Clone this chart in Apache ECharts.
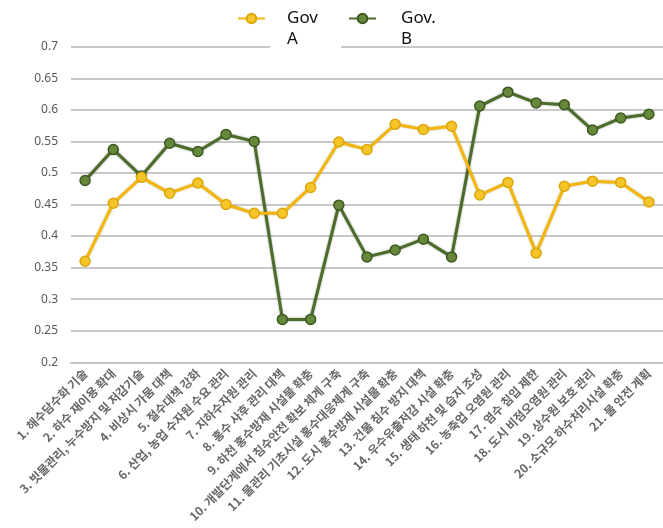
<!DOCTYPE html>
<html>
<head>
<meta charset="utf-8">
<script src="https://cdn.jsdelivr.net/npm/echarts@6/dist/echarts.min.js"></script>
<style>
  html, body { margin: 0; padding: 0; background: #ffffff; }
  #chart { width: 663px; height: 528px; }
</style>
</head>
<body>
<div id="chart"></div>
<script>
// Policy items (x-axis categories)
const categories = [
  '1. 해수담수화 기술',
  '2. 하수 재이용 확대',
  '3. 빗물관리, 누수방지 및 저감기술',
  '4. 비상시 가뭄 대책',
  '5. 절수대책 강화',
  '6. 산업, 농업 수자원 수요 관리',
  '7. 지하수자원 관리',
  '8. 홍수 사후 관리 대책',
  '9. 하천 홍수방재 시설물 확충',
  '10. 개발단계에서 침수안전 확보 체계 구축',
  '11. 물관리 기초시설 홍수대응체계 구축',
  '12. 도시 홍수방재 시설물 확충',
  '13. 건물 침수 방지 대책',
  '14. 우수유출저감 시설 확충',
  '15. 생태 하천 및 습지 조성',
  '16. 농축업 오염원 관리',
  '17. 염수 침입 제한',
  '18. 도시 비점오염원 관리',
  '19. 상수원 보호 관리',
  '20. 소규모 하수처리시설 확충',
  '21. 물 안전 계획'
];

// Scores per government
const govA = [0.360, 0.452, 0.493, 0.468, 0.484, 0.450, 0.436, 0.436, 0.477, 0.549,
              0.537, 0.577, 0.569, 0.574, 0.465, 0.485, 0.373, 0.479, 0.487, 0.485, 0.454];
const govB = [0.488, 0.537, 0.495, 0.547, 0.534, 0.561, 0.550, 0.268, 0.268, 0.449,
              0.367, 0.378, 0.395, 0.367, 0.606, 0.628, 0.611, 0.608, 0.568, 0.587, 0.593];

const seriesNames = ['Gov A', 'Gov. B'];
const legendLabels = ['Gov\nA', 'Gov.\nB'];

// Value axis range and step
const yMin = 0.2, yMax = 0.7, yStep = 0.05;

const chart = echarts.init(document.getElementById('chart'), null, { renderer: 'canvas' });

// One legend per series; a blank first line keeps the marker level with the first text line
function legendFor(i, left, bg, padLeft, padRight) {
  return {
    data: [seriesNames[i]],
    left: left,
    top: -18,
    itemWidth: 27,
    itemHeight: 12,
    formatter: () => ' \n' + legendLabels[i],
    textStyle: {
      fontFamily: 'Noto Sans',
      fontSize: 17,
      color: '#111111',
      lineHeight: 21,
      backgroundColor: bg,
      padding: [0, padRight, 0, padLeft]
    }
  };
}

const option = {
  backgroundColor: '#ffffff',
  animation: false,
  legend: [
    legendFor(0, 232, '#ffffff', 17, 23),
    legendFor(1, 343, 'transparent', 20, 0)
  ],
  grid: { left: 71, right: 0, top: 46.7, bottom: 528 - 362.3 },
  xAxis: {
    type: 'category',
    data: categories,
    boundaryGap: true,
    axisLine: { show: true, lineStyle: { color: '#c4c4c4', width: 2 } },
    axisTick: { show: false },
    axisLabel: {
      interval: 0,
      rotate: 45,
      margin: 9,
      fontFamily: 'Noto Sans CJK KR',
      fontSize: 12,
      fontWeight: 'bold',
      color: '#666666'
    }
  },
  yAxis: {
    type: 'value',
    min: yMin,
    max: yMax,
    interval: yStep,
    axisLine: { show: false },
    axisTick: { show: false },
    axisLabel: {
      margin: 13,
      fontFamily: 'Noto Sans',
      fontSize: 12,
      color: '#595959',
      formatter: v => String(Math.round(v * 100) / 100)
    },
    splitLine: { lineStyle: { color: '#c8c8c8', width: 2 } }
  },
  series: [
    {
      name: seriesNames[0],
      type: 'line',
      data: govA,
      symbol: 'circle',
      symbolSize: 10,
      z: 3,
      lineStyle: { color: '#f2b70a', width: 3, shadowColor: 'rgba(120,90,0,0.45)', shadowBlur: 2 },
      itemStyle: { color: '#f6c52a', borderColor: '#dba60a', borderWidth: 1.5 }
    },
    {
      name: seriesNames[1],
      type: 'line',
      data: govB,
      symbol: 'circle',
      symbolSize: 10,
      z: 2,
      lineStyle: { color: '#4d6b2a', width: 3, shadowColor: 'rgba(20,40,10,0.5)', shadowBlur: 2 },
      itemStyle: { color: '#66883a', borderColor: '#3d5720', borderWidth: 1.5 }
    }
  ]
};

chart.setOption(option);
</script>
</body>
</html>
